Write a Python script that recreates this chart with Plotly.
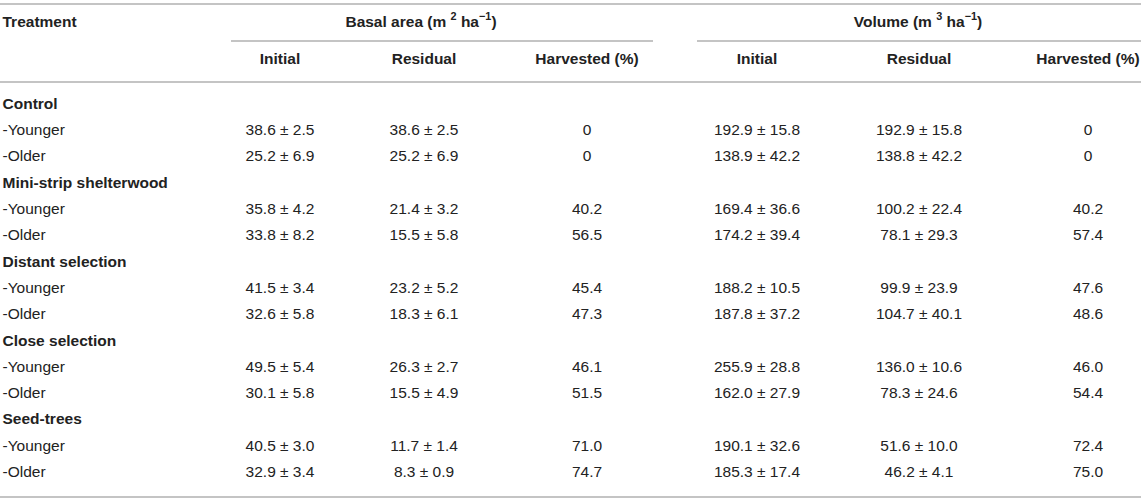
import plotly.graph_objects as go

# table content
treatments = ["Control", "Mini-strip shelterwood", "Distant selection", "Close selection", "Seed-trees"]
stands = ["-Younger", "-Older"]

ba_initial_mean = [38.6, 25.2, 35.8, 33.8, 41.5, 32.6, 49.5, 30.1, 40.5, 32.9]
ba_initial_sd = [2.5, 6.9, 4.2, 8.2, 3.4, 5.8, 5.4, 5.8, 3.0, 3.4]
ba_residual_mean = [38.6, 25.2, 21.4, 15.5, 23.2, 18.3, 26.3, 15.5, 11.7, 8.3]
ba_residual_sd = [2.5, 6.9, 3.2, 5.8, 5.2, 6.1, 2.7, 4.9, 1.4, 0.9]
ba_harvested = [0, 0, 40.2, 56.5, 45.4, 47.3, 46.1, 51.5, 71.0, 74.7]

vol_initial_mean = [192.9, 138.9, 169.4, 174.2, 188.2, 187.8, 255.9, 162.0, 190.1, 185.3]
vol_initial_sd = [15.8, 42.2, 36.6, 39.4, 10.5, 37.2, 28.8, 27.9, 32.6, 17.4]
vol_residual_mean = [192.9, 138.8, 100.2, 78.1, 99.9, 104.7, 136.0, 78.3, 51.6, 46.2]
vol_residual_sd = [15.8, 42.2, 22.4, 29.3, 23.9, 40.1, 10.6, 24.6, 10.0, 4.1]
vol_harvested = [0, 0, 40.2, 57.4, 47.6, 48.6, 46.0, 54.4, 72.4, 75.0]

group_headers = ["Basal area (m <sup>2</sup> ha<sup>−1</sup>)", "Volume (m <sup>3</sup> ha<sup>−1</sup>)"]
col_headers = ["Initial", "Residual", "Harvested (%)"]

# layout constants (pixels across, row units down)
W, H = 1145, 499
ROW_PX = 26.3
FIRST_ROW_PX = 105
col_x = [280, 424, 587, 757, 919, 1088]
group_x = [421, 918]
FONT = "Liberation Sans, Arial, Helvetica, sans-serif"
FS = 15.5
TXT = "#222222"
RULE = "#c4c4c4"


def row(px):
    return (px - FIRST_ROW_PX) / ROW_PX


def pm(m, s):
    return f"{m:.1f} ± {s:.1f}"


def pct(v):
    return "0" if v == 0 else f"{v:.1f}"


# build row order: group label row then two stand rows
label_y, label_txt = [], []
data_rows = []
i = 0
for t in treatments:
    label_y.append(i)
    label_txt.append(f"<b>{t}</b>")
    i += 1
    for s in stands:
        label_y.append(i)
        label_txt.append(s)
        data_rows.append(i)
        i += 1

columns = [
    [pm(m, s) for m, s in zip(ba_initial_mean, ba_initial_sd)],
    [pm(m, s) for m, s in zip(ba_residual_mean, ba_residual_sd)],
    [pct(v) for v in ba_harvested],
    [pm(m, s) for m, s in zip(vol_initial_mean, vol_initial_sd)],
    [pm(m, s) for m, s in zip(vol_residual_mean, vol_residual_sd)],
    [pct(v) for v in vol_harvested],
]

font = dict(family=FONT, size=FS, color=TXT)
fig = go.Figure()

fig.add_trace(go.Scatter(
    x=[2.5] * len(label_y), y=label_y, text=label_txt, mode="text",
    textposition="middle right", textfont=font,
    hoverinfo="skip", showlegend=False,
))

for cx, vals in zip(col_x, columns):
    fig.add_trace(go.Scatter(
        x=[cx] * len(vals), y=data_rows, text=vals, mode="text",
        textposition="middle center", textfont=font,
        hoverinfo="skip", showlegend=False,
    ))

# header text
hdr_y = row(23)
sub_y = row(60)
fig.add_trace(go.Scatter(
    x=[2.5], y=[hdr_y], text=["<b>Treatment</b>"], mode="text",
    textposition="middle right", textfont=font,
    hoverinfo="skip", showlegend=False,
))
fig.add_trace(go.Scatter(
    x=group_x, y=[hdr_y] * 2, text=[f"<b>{g}</b>" for g in group_headers], mode="text",
    textposition="middle center", textfont=font,
    hoverinfo="skip", showlegend=False,
))
fig.add_trace(go.Scatter(
    x=col_x, y=[sub_y] * 6, text=[f"<b>{c}</b>" for c in col_headers * 2], mode="text",
    textposition="middle center", textfont=font,
    hoverinfo="skip", showlegend=False,
))

# rules
rules = [(0, 1141, 4), (231, 653, 41), (697, 1141, 41), (0, 1141, 82), (0, 1141, 497)]
for x0, x1, py in rules:
    fig.add_shape(type="line", x0=x0, x1=x1, y0=row(py), y1=row(py),
                  xref="x", yref="y", line=dict(color=RULE, width=2))

fig.update_xaxes(range=[0, W], visible=False, fixedrange=True)
fig.update_yaxes(range=[row(H), row(0)], visible=False, fixedrange=True)
fig.update_layout(
    width=W, height=H,
    margin=dict(l=0, r=0, t=0, b=0),
    paper_bgcolor="white", plot_bgcolor="white",
)

# drop the default page margin so the figure sits at the window corner
fig.write_html("out.html", config={"displayModeBar": False},
               post_script="document.body.style.margin='0';")
